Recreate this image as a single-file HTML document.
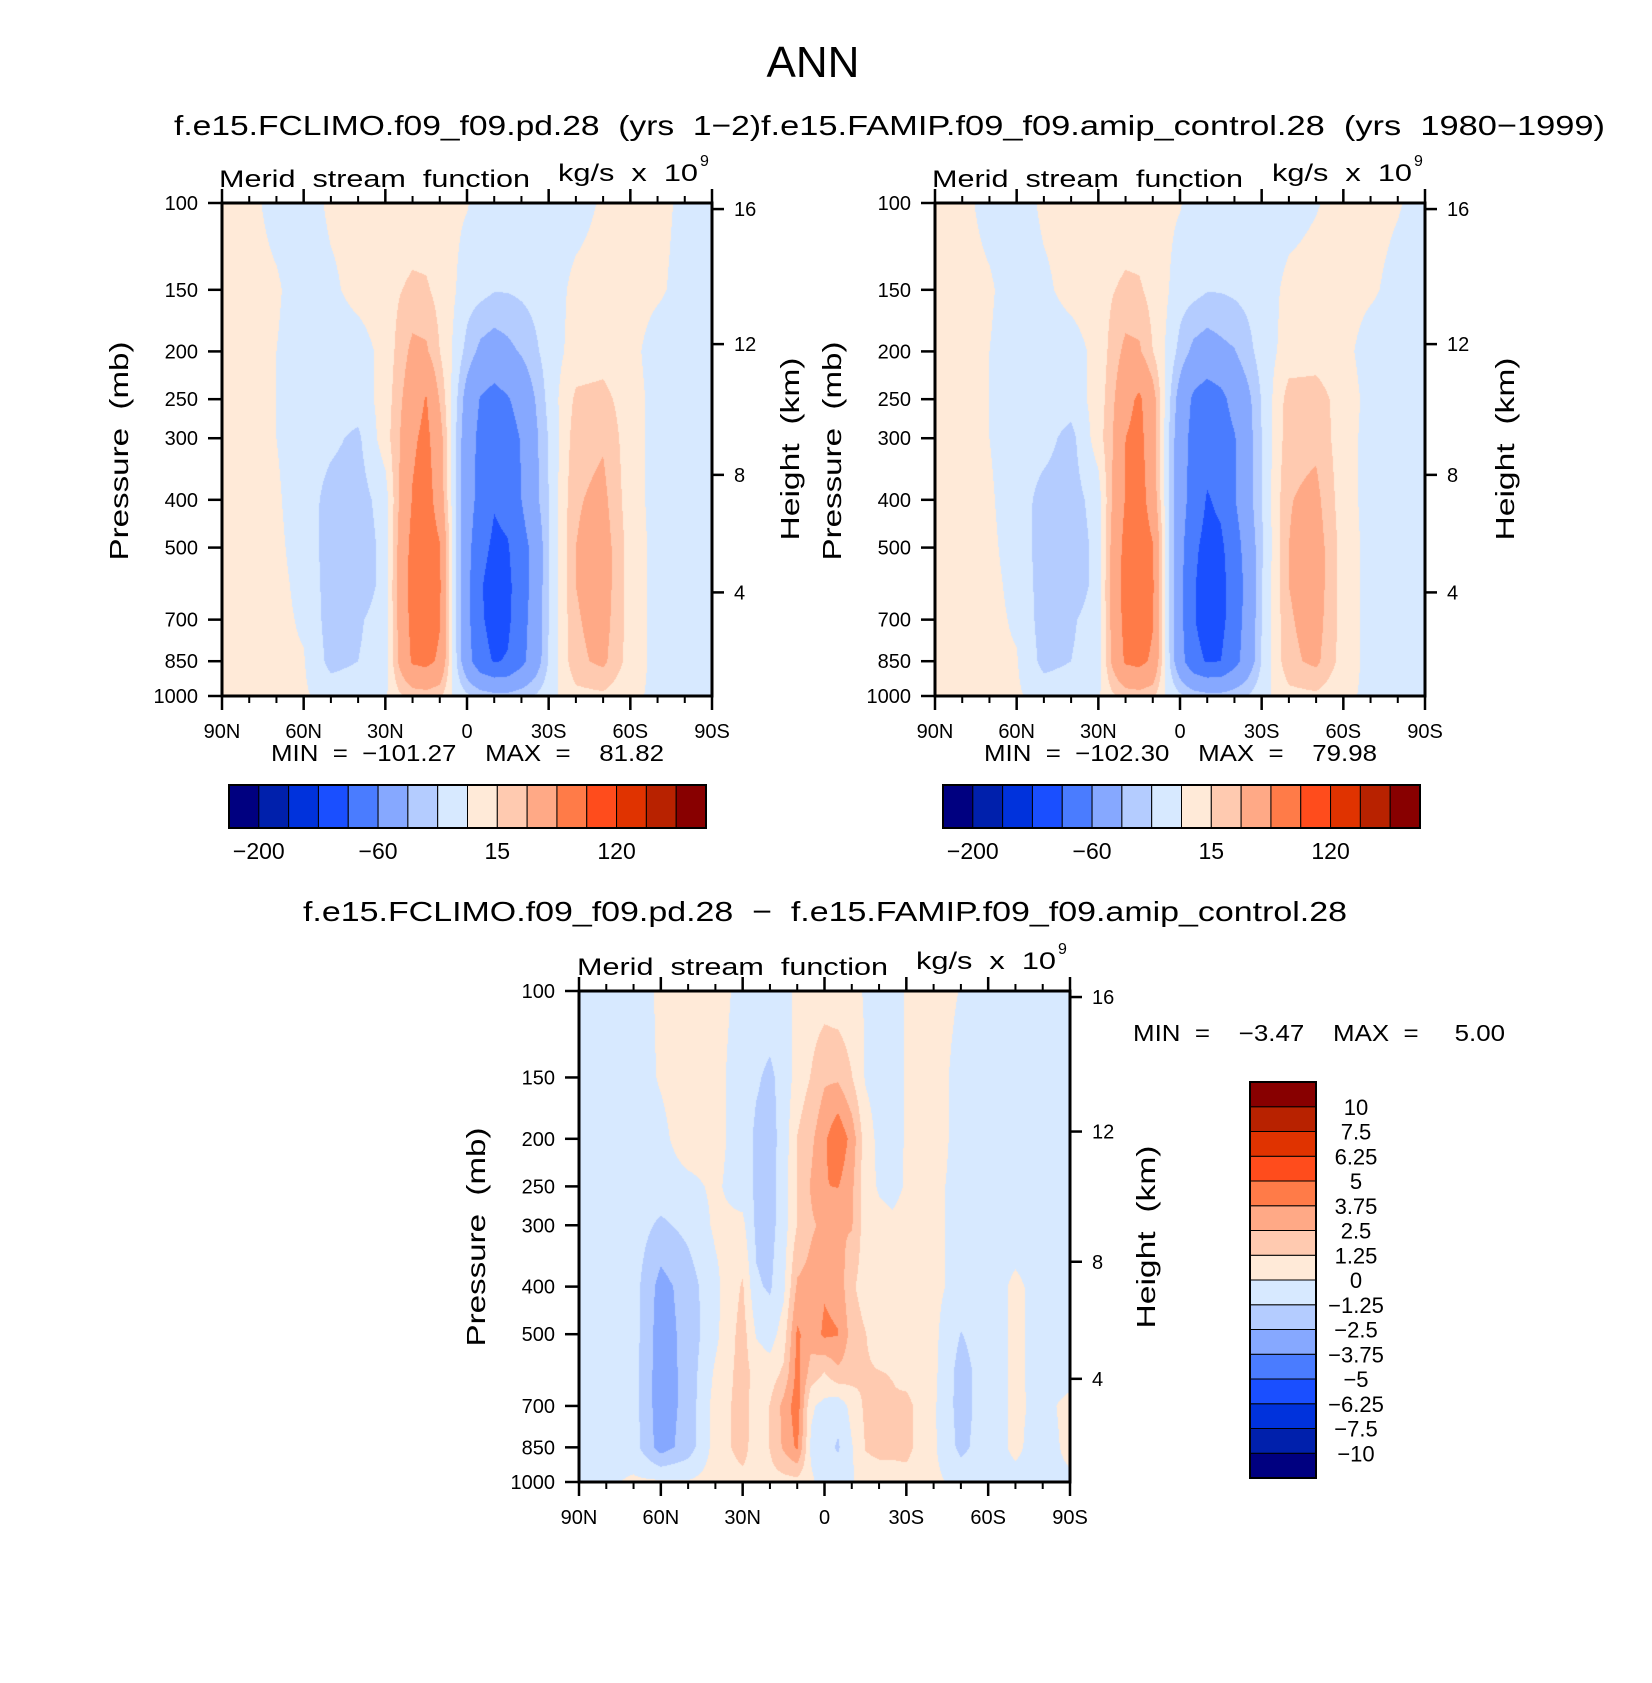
<!DOCTYPE html>
<html><head><meta charset="utf-8">
<style>
html,body{margin:0;padding:0;background:#fff;}
#wrap{position:relative;width:1652px;height:1683px;overflow:hidden;background:#fff;}
canvas{position:absolute;}
svg{position:absolute;left:0;top:0;}
text{font-family:"Liberation Sans",sans-serif;fill:#000;white-space:pre;}
</style></head>
<body>
<div id="wrap">
<canvas id="c1" width="490" height="493" style="left:222px;top:203px"></canvas>
<canvas id="c2" width="490" height="493" style="left:935px;top:203px"></canvas>
<canvas id="c3" width="491" height="491" style="left:579px;top:991px"></canvas>
<svg id="svg" width="1652" height="1683" xmlns="http://www.w3.org/2000/svg" xml:space="preserve">
<text x="813" y="77" font-size="44" text-anchor="middle">ANN</text>
<text x="174" y="135" font-size="28" textLength="587" lengthAdjust="spacingAndGlyphs">f.e15.FCLIMO.f09_f09.pd.28  (yrs  1−2)</text>
<text x="761" y="135" font-size="28" textLength="844" lengthAdjust="spacingAndGlyphs">f.e15.FAMIP.f09_f09.amip_control.28  (yrs  1980−1999)</text>
<text x="219" y="187" font-size="24" textLength="311" lengthAdjust="spacingAndGlyphs">Merid  stream  function</text>
<text x="558" y="181" font-size="24" textLength="140" lengthAdjust="spacingAndGlyphs">kg/s  x  10</text>
<text x="700" y="166" font-size="16">9</text>
<text x="932" y="187" font-size="24" textLength="311" lengthAdjust="spacingAndGlyphs">Merid  stream  function</text>
<text x="1272" y="181" font-size="24" textLength="140" lengthAdjust="spacingAndGlyphs">kg/s  x  10</text>
<text x="1414" y="166" font-size="16">9</text>
<text x="271" y="761" font-size="23" textLength="393" lengthAdjust="spacingAndGlyphs">MIN  =  −101.27    MAX  =    81.82</text>
<text x="984" y="761" font-size="23" textLength="393" lengthAdjust="spacingAndGlyphs">MIN  =  −102.30    MAX  =    79.98</text>
<text x="303" y="921" font-size="28" textLength="1044" lengthAdjust="spacingAndGlyphs">f.e15.FCLIMO.f09_f09.pd.28  −  f.e15.FAMIP.f09_f09.amip_control.28</text>
<text x="577" y="975" font-size="24" textLength="311" lengthAdjust="spacingAndGlyphs">Merid  stream  function</text>
<text x="916" y="969" font-size="24" textLength="140" lengthAdjust="spacingAndGlyphs">kg/s  x  10</text>
<text x="1058" y="954" font-size="16">9</text>
<text x="1133" y="1041" font-size="23" textLength="372" lengthAdjust="spacingAndGlyphs">MIN  =    −3.47    MAX  =     5.00</text>
<text transform="translate(128,451) rotate(-90)" font-size="26" text-anchor="middle" textLength="219" lengthAdjust="spacingAndGlyphs">Pressure  (mb)</text>
<text transform="translate(841,451) rotate(-90)" font-size="26" text-anchor="middle" textLength="219" lengthAdjust="spacingAndGlyphs">Pressure  (mb)</text>
<text transform="translate(485,1237) rotate(-90)" font-size="26" text-anchor="middle" textLength="219" lengthAdjust="spacingAndGlyphs">Pressure  (mb)</text>
<text transform="translate(799,449) rotate(-90)" font-size="26" text-anchor="middle" textLength="183" lengthAdjust="spacingAndGlyphs">Height  (km)</text>
<text transform="translate(1514,449) rotate(-90)" font-size="26" text-anchor="middle" textLength="183" lengthAdjust="spacingAndGlyphs">Height  (km)</text>
<text transform="translate(1155,1237) rotate(-90)" font-size="26" text-anchor="middle" textLength="183" lengthAdjust="spacingAndGlyphs">Height  (km)</text>
</svg>
</div>
<script>
const lats = [90,80,70,60,50,40,30,25,20,15,10,5,0,-5,-10,-15,-20,-25,-30,-40,-50,-60,-70,-80,-90];
const pLevels = [100,150,200,250,300,400,500,600,700,850,1000];
const field1 = [
[5,4,-5,-8,3,5,5,5,5,5,5,3,1,-5,-8,-8,-8,-8,-8,-6,2,5,4,-3,-5],
[5,5,2,-8,-3,5,8,14,18,17,10,2,-8,-10,-14,-14,-12,-10,-8,4,6,5,2,-4,-5],
[5,5,0,-8,-8,-7,5,20,35,33,15,-2,-20,-35,-40,-35,-28,-18,-8,6,8,4,-6,-6,-5],
[5,5,0,-8,-8,-8,6,25,45,62,28,-5,-40,-62,-70,-62,-50,-30,-10,18,20,6,-5,-5,-5],
[5,5,0,-8,-12,-18,8,28,55,68,40,-8,-45,-68,-78,-72,-58,-35,-14,23,28,6,-5,-5,-5],
[5,5,2,-8,-20,-22,-8,30,62,75,45,-8,-45,-72,-88,-82,-60,-36,-15,28,35,6,-5,-5,-5],
[5,5,3,-6,-22,-25,-10,35,70,80,62,-5,-50,-82,-95,-92,-72,-50,-15,30,40,8,-5,-5,-5],
[5,5,4,-4,-22,-24,-10,38,72,82,64,-5,-52,-88,-101,-96,-75,-48,-15,30,40,8,-5,-5,-5],
[5,5,4,-2,-22,-17,-8,35,70,80,62,-5,-52,-86,-100,-95,-72,-46,-15,28,38,8,-5,-5,-5],
[5,5,3,1,-20,-15,-8,33,64,68,55,-5,-48,-80,-92,-88,-68,-44,-14,26,34,8,-5,-5,-5],
[3,3,3,2,-6,-5,-2,12,20,22,18,-2,-12,-20,-24,-24,-20,-14,-5,10,12,3,-3,-3,-3]];
const field2 = [
[5,4,-5,-8,3,5,5,5,5,5,5,3,1,-5,-8,-8,-8,-8,-8,-6,-1,5,4,1,-5],
[5,5,2,-8,-3,5,8,14,18,17,10,2,-8,-10,-14,-14,-12,-10,-8,4,6,5,2,-4,-5],
[5,5,0,-8,-8,-7,5,20,35,33,15,-2,-20,-35,-40,-35,-31,-20,-8,6,8,4,-6,-6,-5],
[5,5,0,-8,-8,-8,6,25,50,65,40,-5,-40,-65,-75,-68,-50,-35,-14,22,22,8,-5,-5,-5],
[5,5,0,-8,-10,-20,8,28,60,70,40,-8,-45,-70,-80,-75,-62,-38,-15,24,26,6,-5,-5,-5],
[5,5,2,-8,-20,-22,-8,30,62,75,45,-8,-45,-75,-92,-85,-62,-38,-15,29,35,6,-5,-5,-5],
[5,5,3,-6,-22,-25,-10,35,70,80,62,-5,-50,-85,-98,-95,-75,-45,-18,30,40,8,-5,-5,-5],
[5,5,4,-4,-22,-24,-10,38,72,82,64,-5,-52,-88,-101,-98,-78,-50,-15,30,40,8,-5,-5,-5],
[5,5,4,-2,-22,-17,-8,35,70,80,62,-5,-52,-88,-102,-98,-75,-48,-15,28,38,8,-5,-5,-5],
[5,5,3,1,-20,-15,-8,33,64,68,55,-5,-48,-82,-92,-90,-70,-45,-14,26,34,8,-5,-5,-5],
[3,3,3,2,-6,-5,-2,12,20,22,18,-2,-12,-20,-24,-24,-20,-14,-5,10,12,3,-3,-3,-3]];
const field3 = [
[-0.5,-0.5,-0.6,0.2,0.5,0.4,-0.3,-0.5,-0.5,-0.3,0.2,0.5,0.6,0.4,0.3,-0.1,-0.4,-0.4,0.1,0.5,-0.05,-0.4,-0.4,-0.4,-0.4],
[-0.5,-0.5,-0.5,0.1,0.6,0.3,-0.5,-1.1,-1.5,-0.8,0.5,1.3,2.3,2.3,1.3,-0.1,-0.5,-0.4,0.1,0.5,-0.4,-0.5,-0.5,-0.5,-0.4],
[-0.5,-0.5,-0.5,-0.3,0.6,0.4,-0.6,-1.5,-1.7,-0.8,1.3,2.2,3.5,4.8,3.3,0.6,-0.3,-0.4,0.1,0.5,-0.4,-0.5,-0.5,-0.5,-0.4],
[-0.5,-0.5,-0.5,-0.5,-0.3,0.2,-0.6,-1.5,-1.7,-0.6,1.3,2.6,3.7,3.8,2.8,0.4,-0.1,-0.3,0.1,0.3,-0.4,-0.5,-0.5,-0.5,-0.4],
[-0.5,-0.5,-0.6,-1.5,-0.9,0.2,0.3,-1.5,-1.7,-0.6,1.3,2.3,2.8,2.6,2.6,0.6,0.3,0.2,0.4,0.3,-0.4,-0.5,-0.5,-0.5,-0.4],
[-0.5,-0.5,-0.7,-3.0,-1.9,-0.3,1.4,-1.1,-1.4,-0.3,2.7,3.0,3.6,3.3,1.5,0.6,0.5,0.5,0.5,0.3,-0.4,-0.5,0.2,-0.4,-0.4],
[-0.5,-0.4,-0.7,-3.2,-2.0,-0.3,1.8,-0.1,-0.6,0.6,4.0,3.0,4.0,3.8,2.0,1.3,0.6,0.5,0.5,0.3,-1.3,-0.5,0.2,-0.4,-0.4],
[-0.5,-0.4,-0.7,-3.3,-2.0,0.2,1.8,0.8,0.6,1.5,4.2,2.0,1.2,2.2,1.8,1.4,1.3,1.2,0.8,0.3,-1.8,-0.5,0.2,-0.4,-0.4],
[-0.5,-0.4,-0.7,-3.3,-2.0,0.5,1.8,0.6,1.3,2.9,4.5,0.2,-0.4,-0.8,0.4,1.5,1.5,1.4,1.6,0.2,-1.8,-0.5,0.2,-0.3,0.3],
[-0.5,-0.4,-0.7,-3.1,-1.9,0.5,1.8,0.5,1.3,2.7,4.0,-0.2,-0.8,-1.4,-0.1,1.3,1.5,1.5,1.6,0.2,-1.6,-0.5,0.2,-0.5,0.3],
[-0.3,-0.2,0.2,0.2,0.1,0.5,0.8,0.6,0.8,0.8,0.8,0.2,-0.5,-0.5,-0.2,0.8,0.8,0.8,0.8,0.3,-0.4,-0.4,-0.3,-0.3,-0.2]];
const levelsMain = [-200,-150,-120,-90,-60,-30,-15,0,15,30,60,90,120,150,200];
const levelsDiff = [-10,-7.5,-6.25,-5,-3.75,-2.5,-1.25,0,1.25,2.5,3.75,5,6.25,7.5,10];
const colors = ['#000080','#0020AC','#0032DC','#1A4FFF','#4A7CFF','#86A8FF','#B4CCFF','#D7E9FF','#FFEAD8','#FFCAB0','#FFA986','#FF7B48','#FF4C1C','#E03300','#B82200','#880000'];
const pressTicks = [100,150,200,250,300,400,500,700,850,1000];
const heightTicks = [4,8,12,16];
const latTicks = [90,60,30,0,-30,-60,-90];
const latLabels = ['90N','60N','30N','0','30S','60S','90S'];
const latMinor = [80,70,50,40,20,10,-10,-20,-40,-50,-70,-80];

const panels = [
 {id:'c1', name:'panel1', left:222, top:203, w:490, h:493, field:field1, levels:levelsMain},
 {id:'c2', name:'panel2', left:935, top:203, w:490, h:493, field:field2, levels:levelsMain},
 {id:'c3', name:'panel3', left:579, top:991, w:491, h:491, field:field3, levels:levelsDiff}
];
const NS = 'http://www.w3.org/2000/svg';
const svg = document.getElementById('svg');
function mk(tag, attrs){const e=document.createElementNS(NS,tag);for(const k in attrs)e.setAttribute(k,attrs[k]);svg.appendChild(e);return e;}
function fmt(v){return String(v).replace('-','\u2212');}
function heightToP(z){const m=z*1000; if(m<=11000) return 1013.25*Math.pow(1-2.25577e-5*m,5.25588); return 226.32*Math.exp(-(m-11000)/6341.6);}
const lps = pLevels.map(Math.log10);
function interp(field, lat, lp){
  let i=0; while(i<lats.length-2 && lat<lats[i+1]) i++;
  let fx=(lats[i]-lat)/(lats[i]-lats[i+1]); fx=Math.max(0,Math.min(1,fx));
  let j=0;
  while(j<lps.length-2 && lp>lps[j+1]) j++;
  let fy=(lp-lps[j])/(lps[j+1]-lps[j]); fy=Math.max(0,Math.min(1,fy));
  const a=field[j][i],b=field[j][i+1],c=field[j+1][i],d=field[j+1][i+1];
  return (a*(1-fx)+b*fx)*(1-fy)+(c*(1-fx)+d*fx)*fy;
}
function hex(c){return [parseInt(c.substr(1,2),16),parseInt(c.substr(3,2),16),parseInt(c.substr(5,2),16)];}
const rgb = colors.map(hex);

panels.forEach(P=>{
  const xOf = lat => P.left + (90-lat)/180*P.w;
  const yOf = p => P.top + (Math.log10(p)-2)*P.h;
  const cv=document.getElementById(P.id); const ctx=cv.getContext('2d');
  const img=ctx.createImageData(P.w,P.h);
  for(let py=0;py<P.h;py++){
    const lp=2+(py+0.5)/P.h;
    for(let px=0;px<P.w;px++){
      const lat=90-(px+0.5)/P.w*180;
      const v=interp(P.field,lat,lp);
      let k=0; while(k<P.levels.length && v>=P.levels[k]) k++;
      const c=rgb[k]; const o=(py*P.w+px)*4;
      img.data[o]=c[0];img.data[o+1]=c[1];img.data[o+2]=c[2];img.data[o+3]=255;
    }
  }
  ctx.putImageData(img,0,0);
  const fr=mk('rect',{x:P.left,y:P.top,width:P.w,height:P.h,fill:'none',stroke:'#000','stroke-width':3});
  
  
  pressTicks.forEach(p=>{
    const y=yOf(p);
    const t=mk('line',{x1:P.left-14,x2:P.left,y1:y,y2:y,stroke:'#000','stroke-width':2.5});
    
    
    const l=mk('text',{x:P.left-24,y:y+7,'font-size':20,'text-anchor':'end'});
    l.textContent=String(p);
    
    
  });
  heightTicks.forEach(z=>{
    const y=yOf(heightToP(z));
    const t=mk('line',{x1:P.left+P.w,x2:P.left+P.w+12,y1:y,y2:y,stroke:'#000','stroke-width':2.5});
    
    
    const l=mk('text',{x:P.left+P.w+22,y:y+7,'font-size':20});
    l.textContent=String(z);
    
    
  });
  latTicks.forEach((lat,i)=>{
    const x=xOf(lat);
    const tb=mk('line',{x1:x,x2:x,y1:P.top+P.h,y2:P.top+P.h+14,stroke:'#000','stroke-width':2.5});
    
    
    const tt=mk('line',{x1:x,x2:x,y1:P.top-14,y2:P.top,stroke:'#000','stroke-width':2.5});
    
    
    const l=mk('text',{x:x,y:P.top+P.h+42,'font-size':20,'text-anchor':'middle'});
    l.textContent=latLabels[i];
    
    
  });
  latMinor.forEach(lat=>{
    const x=xOf(lat);
    const tb=mk('line',{x1:x,x2:x,y1:P.top+P.h,y2:P.top+P.h+7,stroke:'#000','stroke-width':2});
    
    
    const tt=mk('line',{x1:x,x2:x,y1:P.top-7,y2:P.top,stroke:'#000','stroke-width':2});
    
    
  });
});

[{left:229,name:'panel1'},{left:943,name:'panel2'}].forEach(cb=>{
  const top=785,hgt=43,w=477,bw=w/16;
  colors.forEach((c,i)=>{
    const r=mk('rect',{x:cb.left+i*bw,y:top,width:bw,height:hgt,fill:c,stroke:'#000','stroke-width':1});
    
    
  });
  const b=mk('rect',{x:cb.left,y:top,width:w,height:hgt,fill:'none',stroke:'#000','stroke-width':2});
  
  
  levelsMain.forEach((v,k)=>{
    if(k%4!==0) return;
    const l=mk('text',{x:cb.left+(k+1)*bw,y:859,'font-size':23,'text-anchor':'middle'});
    l.textContent=fmt(v);
    
    
  });
});
(function(){
  const left=1250,top=1082,w=66,h=396,bh=h/16;
  colors.forEach((c,i)=>{
    const r=mk('rect',{x:left,y:top+(15-i)*bh,width:w,height:bh,fill:c,stroke:'#000','stroke-width':1});
    
    
  });
  const b=mk('rect',{x:left,y:top,width:w,height:h,fill:'none',stroke:'#000','stroke-width':2});
  
  
  levelsDiff.forEach((v,k)=>{
    const l=mk('text',{x:1356,y:top+(15-k)*bh+8,'font-size':22,'text-anchor':'middle'});
    l.textContent=fmt(v);
    
    
  });
})();
</script>
</body></html>
